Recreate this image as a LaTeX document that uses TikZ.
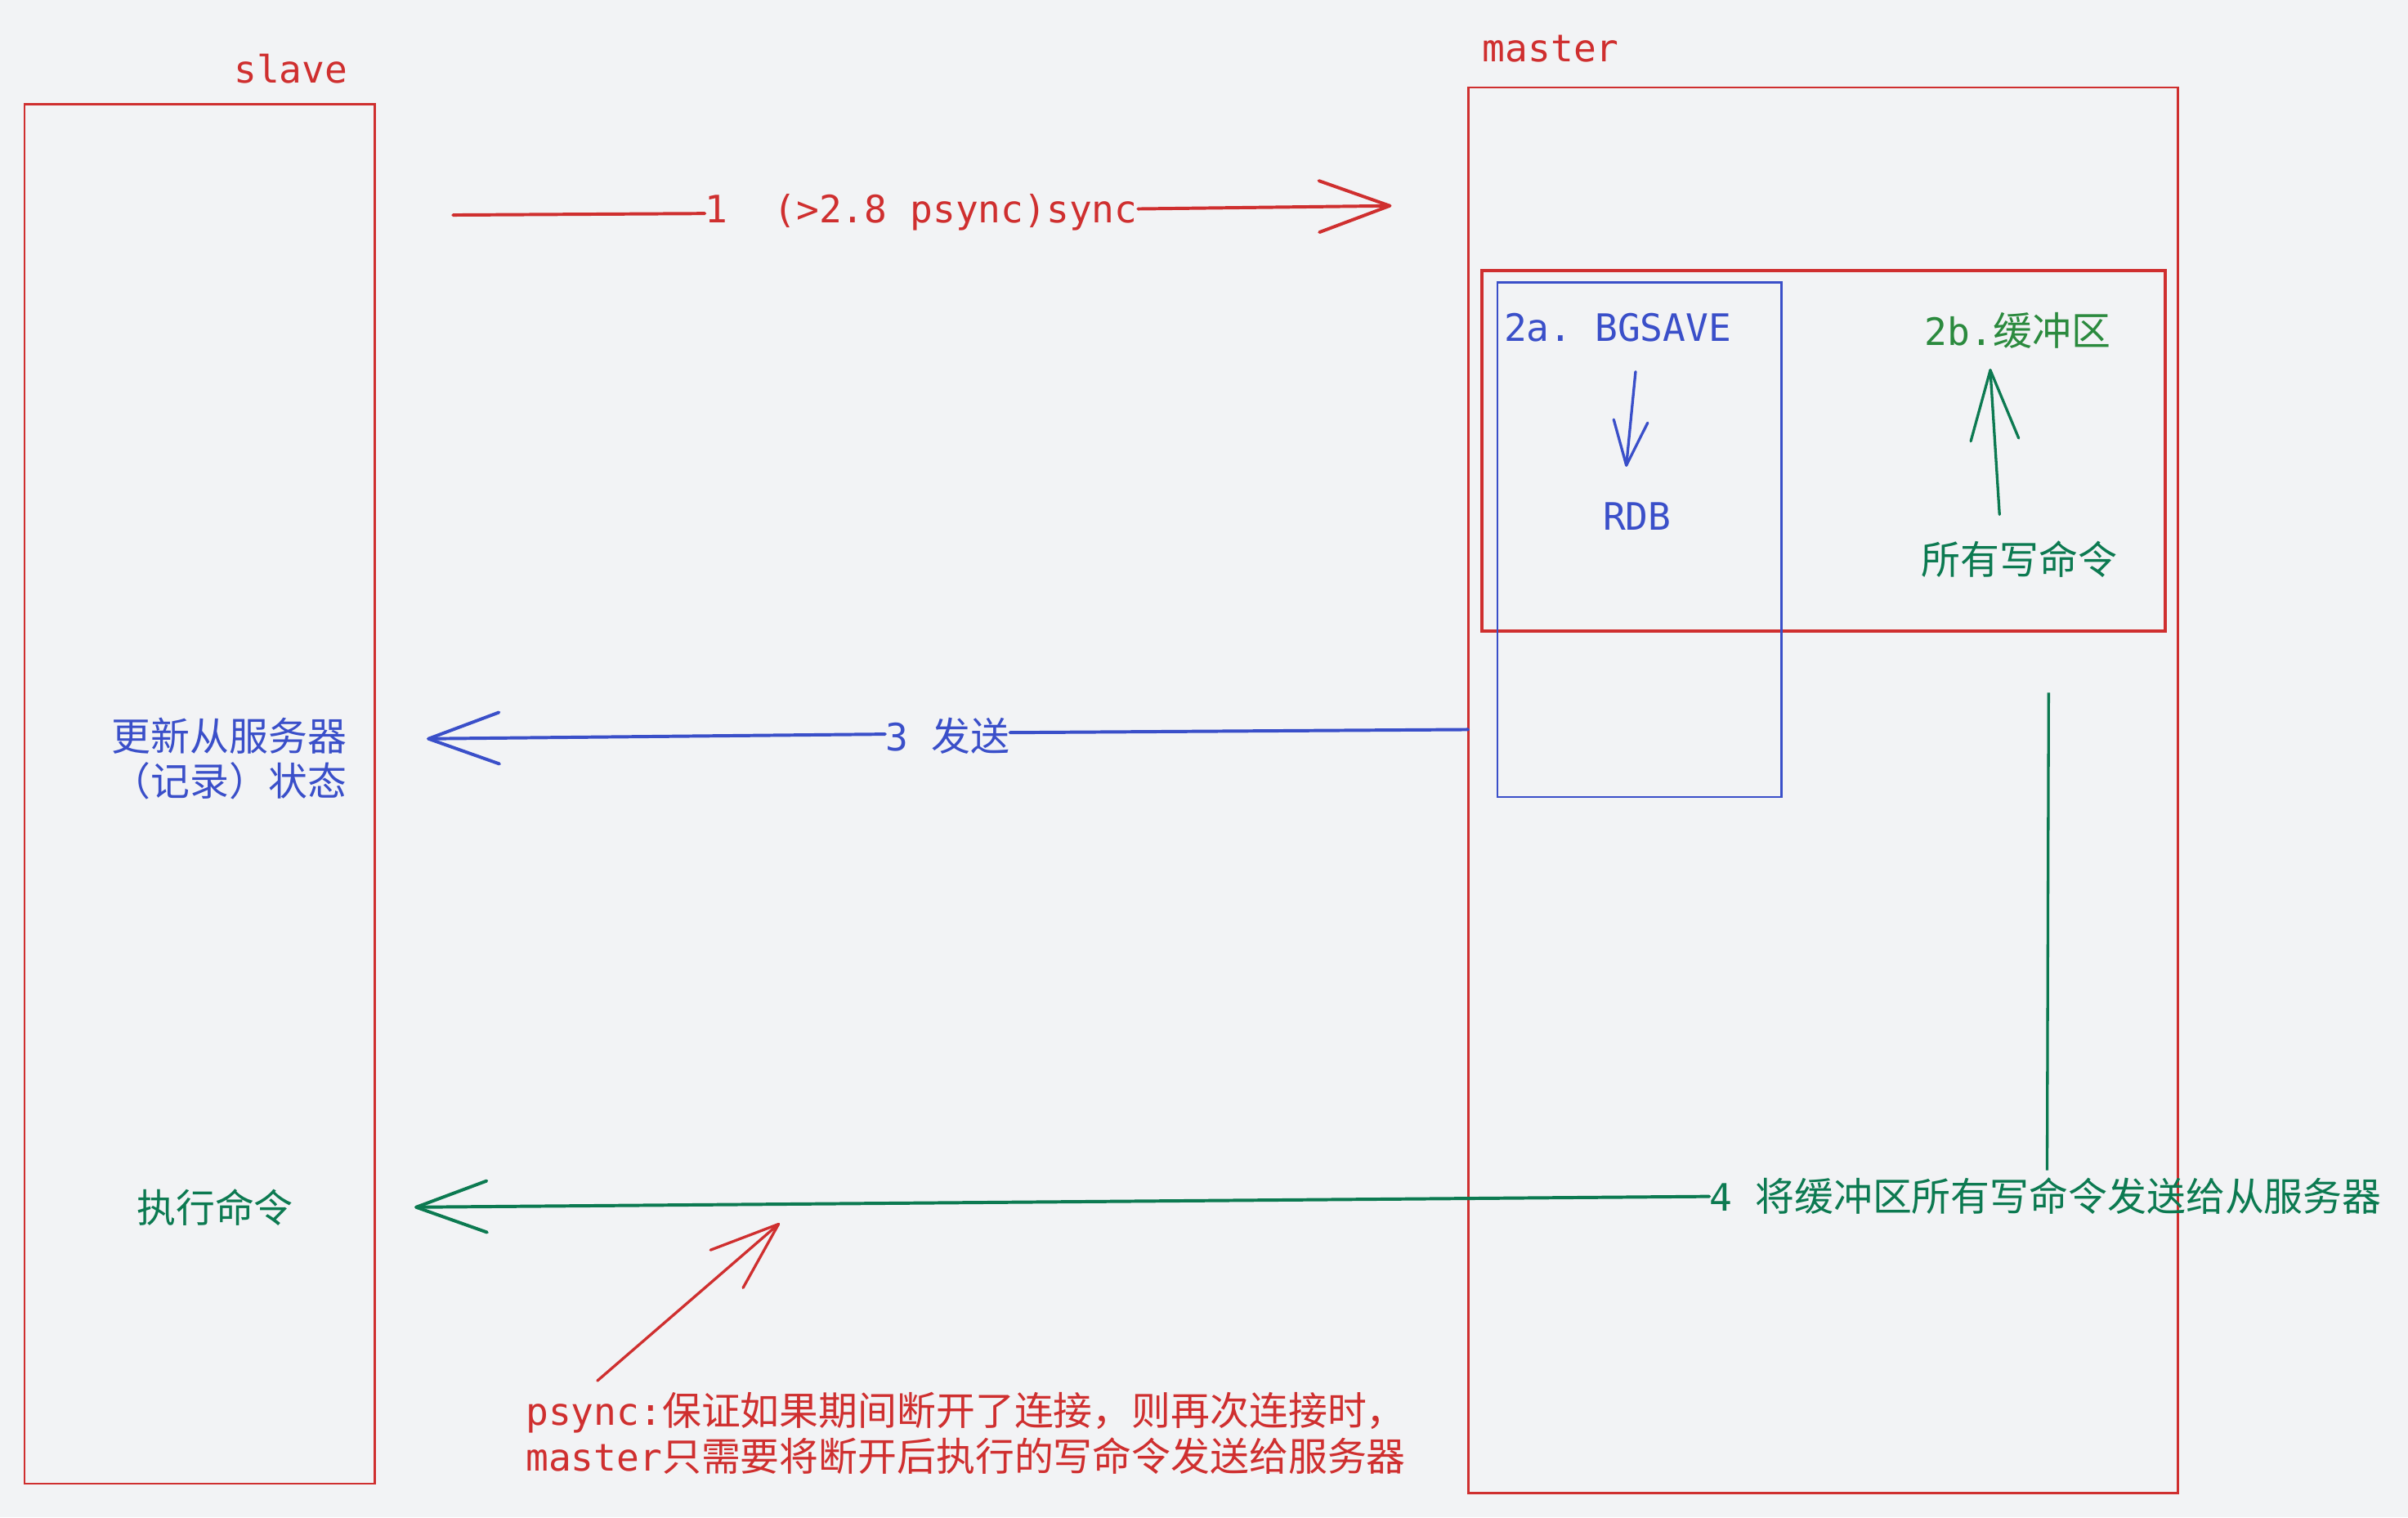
\documentclass[tikz,border=0pt]{standalone}
\usepackage{fontspec}
\setmonofont{DejaVu Sans Mono}
\newfontfamily\cjk[Scale=1.036]{Noto Sans CJK SC}
\usetikzlibrary{calc}
\definecolor{bg}{HTML}{F2F3F5}
\definecolor{cred}{HTML}{CF2F2F}
\definecolor{cblue}{HTML}{3A4FC9}
\definecolor{cgreen}{HTML}{2B8A3E}
\definecolor{cteal}{HTML}{0C7A51}
% open V head: #1 options, #2 tip, #3 point on shaft, #4 arm length, #5 half angle
\newcommand\openhead[5]{\draw[#1] ($(#2)!#4!#5:(#3)$) -- (#2) -- ($(#2)!#4!-#5:(#3)$);}
\tikzset{
  txt/.style={inner sep=0pt, font=\fontsize{14}{17}\selectfont\ttfamily},
  boxline/.style={line width=0.8pt},
  arrline/.style={line width=1.2pt, line cap=round, line join=round},
}
\begin{document}
\begin{tikzpicture}[x=0.02cm,y=-0.02cm]
\fill[bg] (0,0) rectangle (1568,988);
\useasboundingbox (0,0) rectangle (1568,988);

% boxes
\draw[boxline, cred] (16,68) rectangle (244,966);
\draw[boxline, cred] (956,57) rectangle (1418,972);
\draw[line width=1.1pt, cred] (965,176) rectangle (1410,411);
\draw[boxline, cblue] (975,184) rectangle (1160,519);

% titles
\node[txt, cred, anchor=base west] (slave) at (152,54) {slave};
\node[txt, cred, anchor=base west] (master) at (965,40) {master};

% arrow 1
\coordinate (s1) at (295,140);
\coordinate (m1) at (905,134);
\node[txt, cred, anchor=center] (l1) at (600,138) {1\ \ (>2.8 psync)sync};
\draw[arrline, cred] (s1) -- (l1.west |- 0,139);
\draw[arrline, cred] (l1.east |- 0,136) -- (m1);
\openhead{arrline, cred}{m1}{s1}{0.98cm}{20}

% 2a
\node[txt, cblue, anchor=base west] (bg2a) at (979,222) {2a. BGSAVE};
\node[txt, cblue, anchor=center] (rdb) at (1066,336) {RDB};
\coordinate (a2s) at (1065,242);
\coordinate (a2e) at (1059,303);
\draw[line width=1pt, cblue, line cap=round] (a2s) -- (a2e);
\openhead{line width=1pt, cblue, line cap=round, line join=round}{a2e}{a2s}{0.62cm}{21}

% 2b
\node[txt, cgreen, anchor=base west] (buf) at (1253,225) {2b.{\cjk 缓冲区}};
\node[txt, cteal, anchor=center] (allw) at (1315,364) {\cjk 所有写命令};
\coordinate (b2s) at (1302,335);
\coordinate (b2e) at (1296,241);
\draw[line width=1pt, cteal, line cap=round] (b2s) -- (b2e);
\openhead{line width=1pt, cteal, line cap=round, line join=round}{b2e}{b2s}{0.96cm}{19}

% arrow 3
\coordinate (m3) at (956,475);
\coordinate (s3) at (279,481);
\node[txt, cblue, anchor=center] (l3) at (617,479) {3 {\cjk 发送}};
\draw[arrline, cblue] (m3) -- (l3.east |- 0,477);
\draw[arrline, cblue] (l3.west |- 0,478) -- (s3);
\openhead{arrline, cblue}{s3}{m3}{0.98cm}{20}
\node[txt, cblue, anchor=east, align=right, font=\fontsize{14}{16.5}\selectfont\cjk] (upd) at (226,494) {更新从服务器\\（记录）状态};

% vertical green line and arrow 4
\coordinate (g1) at (1334,451);
\coordinate (g2) at (1333,762);
\draw[line width=1pt, cteal] (g1) -- (g2);
\node[txt, cteal, anchor=west] (l4) at (1113,779) {4 {\cjk 将缓冲区所有写命令发送给从服务器}};
\coordinate (s4) at (271,786);
\draw[arrline, cteal] (l4.west) -- (s4);
\openhead{arrline, cteal}{s4}{l4.west}{0.98cm}{20}
\node[txt, cteal, anchor=center] (exec) at (140,786) {\cjk 执行命令};

% psync note
\node[txt, cred, anchor=base west] (p1) at (342,928) {psync:{\cjk 保证如果期间断开了连接，则再次连接时，}};
\node[txt, cred, anchor=base west] (p2) at (342,958) {master{\cjk 只需要将断开后执行的写命令发送给服务器}};
\coordinate (r1) at (389,899);
\coordinate (r2) at (507,797);
\draw[line width=1pt, cred, line cap=round] (r1) -- (r2);
\openhead{line width=1pt, cred, line cap=round, line join=round}{r2}{r1}{0.95cm}{20}
\end{tikzpicture}
\end{document}
